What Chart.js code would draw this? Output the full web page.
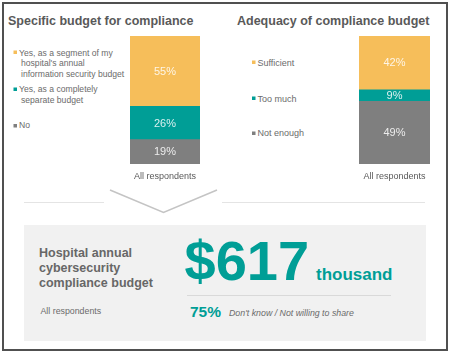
<!DOCTYPE html>
<html>
<head>
<meta charset="utf-8">
<script src="https://cdn.jsdelivr.net/npm/chart.js@4"></script>
<style>
  html, body { margin: 0; padding: 0; background: #fff; }
  #wrap { position: relative; width: 450px; height: 353px; overflow: hidden; font-family: "Liberation Sans", Arial, sans-serif; }
  #frame { position: absolute; left: 2px; top: 2px; width: 442px; height: 345px; border: 2px solid #505050; }
  .chartbox { position: absolute; }
  svg { position: absolute; left: 0; top: 0; }
</style>
</head>
<body>
<div id="wrap">
  <div id="frame"></div>
  <svg width="450" height="353" font-family="Liberation Sans, Arial, sans-serif">
    <!-- titles -->
    <text x="8" y="25" font-size="12.5" font-weight="bold" fill="#595959">Specific budget for compliance</text>
    <text x="237" y="25" font-size="12.5" font-weight="bold" fill="#595959">Adequacy of compliance budget</text>

    <!-- left legend -->
    <rect x="13.5" y="50.5" width="3.5" height="3.5" fill="#f6be5a"/>
    <text font-size="8.6" fill="#6b6b6b">
      <tspan x="19" y="55.5">Yes, as a segment of my</tspan>
      <tspan x="21" y="66">hospital's annual</tspan>
      <tspan x="21" y="76.5">information security budget</tspan>
    </text>
    <rect x="13.5" y="87.5" width="3.5" height="3.5" fill="#009e96"/>
    <text font-size="8.6" fill="#6b6b6b">
      <tspan x="19" y="92">Yes, as a completely</tspan>
      <tspan x="21" y="102.5">separate budget</tspan>
    </text>
    <rect x="13.5" y="124" width="3.5" height="3.5" fill="#7f7f7f"/>
    <text x="19" y="128" font-size="8.6" fill="#6b6b6b">No</text>

    <!-- right legend -->
    <rect x="252" y="60.5" width="3.5" height="3.5" fill="#f6be5a"/>
    <text x="257.5" y="65.5" font-size="9" fill="#6b6b6b">Sufficient</text>
    <rect x="252" y="96.5" width="3.5" height="3.5" fill="#009e96"/>
    <text x="257.5" y="101.5" font-size="9" fill="#6b6b6b">Too much</text>
    <rect x="252" y="131.5" width="3.5" height="3.5" fill="#7f7f7f"/>
    <text x="257.5" y="136" font-size="9" fill="#6b6b6b">Not enough</text>

    <!-- divider and chevron -->
    <line x1="24" y1="202.5" x2="104" y2="202.5" stroke="#e4e4e4" stroke-width="1"/>
    <line x1="222" y1="202.5" x2="425" y2="202.5" stroke="#e4e4e4" stroke-width="1"/>
    <polyline points="110,190 163.5,212.5 217,190" fill="none" stroke="#c4c4c4" stroke-width="1.6"/>

    <!-- summary box -->
    <rect x="24" y="225" width="402" height="116" fill="#f1f1f1"/>
    <text font-size="12.5" font-weight="bold" fill="#676767">
      <tspan x="39" y="256.5">Hospital annual</tspan>
      <tspan x="39" y="271.5">cybersecurity</tspan>
      <tspan x="39" y="286.5">compliance budget</tspan>
    </text>
    <text x="40.5" y="313.5" font-size="8.8" fill="#6b6b6b">All respondents</text>
    <text x="184.5" y="280" font-size="56" font-weight="bold" fill="#009e96">$617</text>
    <text x="316" y="279.5" font-size="17" font-weight="bold" fill="#009e96">thousand</text>
    <line x1="187" y1="295.5" x2="391" y2="295.5" stroke="#d9d9d9" stroke-width="1"/>
    <text x="190" y="316.5" font-size="15.5" font-weight="bold" fill="#009e96">75%</text>
    <text x="229" y="316" font-size="8.8" font-style="italic" fill="#6b6b6b">Don't know / Not willing to share</text>
  </svg>
  <div class="chartbox" style="left:100px; top:30px; width:130px; height:160px;"><canvas id="budgetChart"></canvas></div>
  <div class="chartbox" style="left:329px; top:30px; width:131px; height:160px;"><canvas id="adequacyChart"></canvas></div>
</div>
<script>
const categories = ["All respondents"];
const budgetLabels = ["Yes, as a segment of my hospital's annual information security budget", "Yes, as a completely separate budget", "No"];
const budgetValues = [55, 26, 19];
const adequacyLabels = ["Sufficient", "Too much", "Not enough"];
const adequacyValues = [42, 9, 49];
const segmentColors = ["#f6be5a", "#009e96", "#7f7f7f"];

// values sit in the middle of each stacked segment
const segmentLabels = {
  id: "segmentLabels",
  afterDatasetsDraw(chart) {
    const ctx = chart.ctx;
    ctx.save();
    ctx.font = "11px 'Liberation Sans', Arial, sans-serif";
    ctx.fillStyle = "rgba(255,255,255,0.85)";
    ctx.textAlign = "center";
    ctx.textBaseline = "middle";
    chart.data.datasets.forEach((ds, i) => {
      chart.getDatasetMeta(i).data.forEach((bar, j) => {
        ctx.fillText(ds.data[j] + "%", bar.x, (bar.y + bar.base) / 2 + 0.5);
      });
    });
    ctx.restore();
  }
};

function stackedBar(canvasId, labels, values) {
  // first dataset goes to the bottom of the stack, so reverse
  const datasets = labels.map((label, i) => ({
    label: label,
    data: [values[i]],
    backgroundColor: segmentColors[i],
    borderWidth: 0
  })).reverse();

  return new Chart(document.getElementById(canvasId), {
    type: "bar",
    data: { labels: categories, datasets: datasets },
    plugins: [segmentLabels],
    options: {
      responsive: true,
      maintainAspectRatio: false,
      animation: false,
      categoryPercentage: 1,
      barPercentage: 1,
      layout: { padding: { left: 30, right: 30, top: 6, bottom: 6 } },
      plugins: { legend: { display: false }, tooltip: { enabled: false } },
      scales: {
        x: {
          stacked: true,
          grid: { display: false, drawTicks: false },
          border: { display: false },
          ticks: { color: "#595959", padding: 7, font: { size: 9, family: "'Liberation Sans', Arial, sans-serif" } },
          afterFit: (s) => { s.height = 20; }
        },
        y: { stacked: true, min: 0, max: 100, display: false }
      }
    }
  });
}

stackedBar("budgetChart", budgetLabels, budgetValues);
stackedBar("adequacyChart", adequacyLabels, adequacyValues);
</script>
</body>
</html>
